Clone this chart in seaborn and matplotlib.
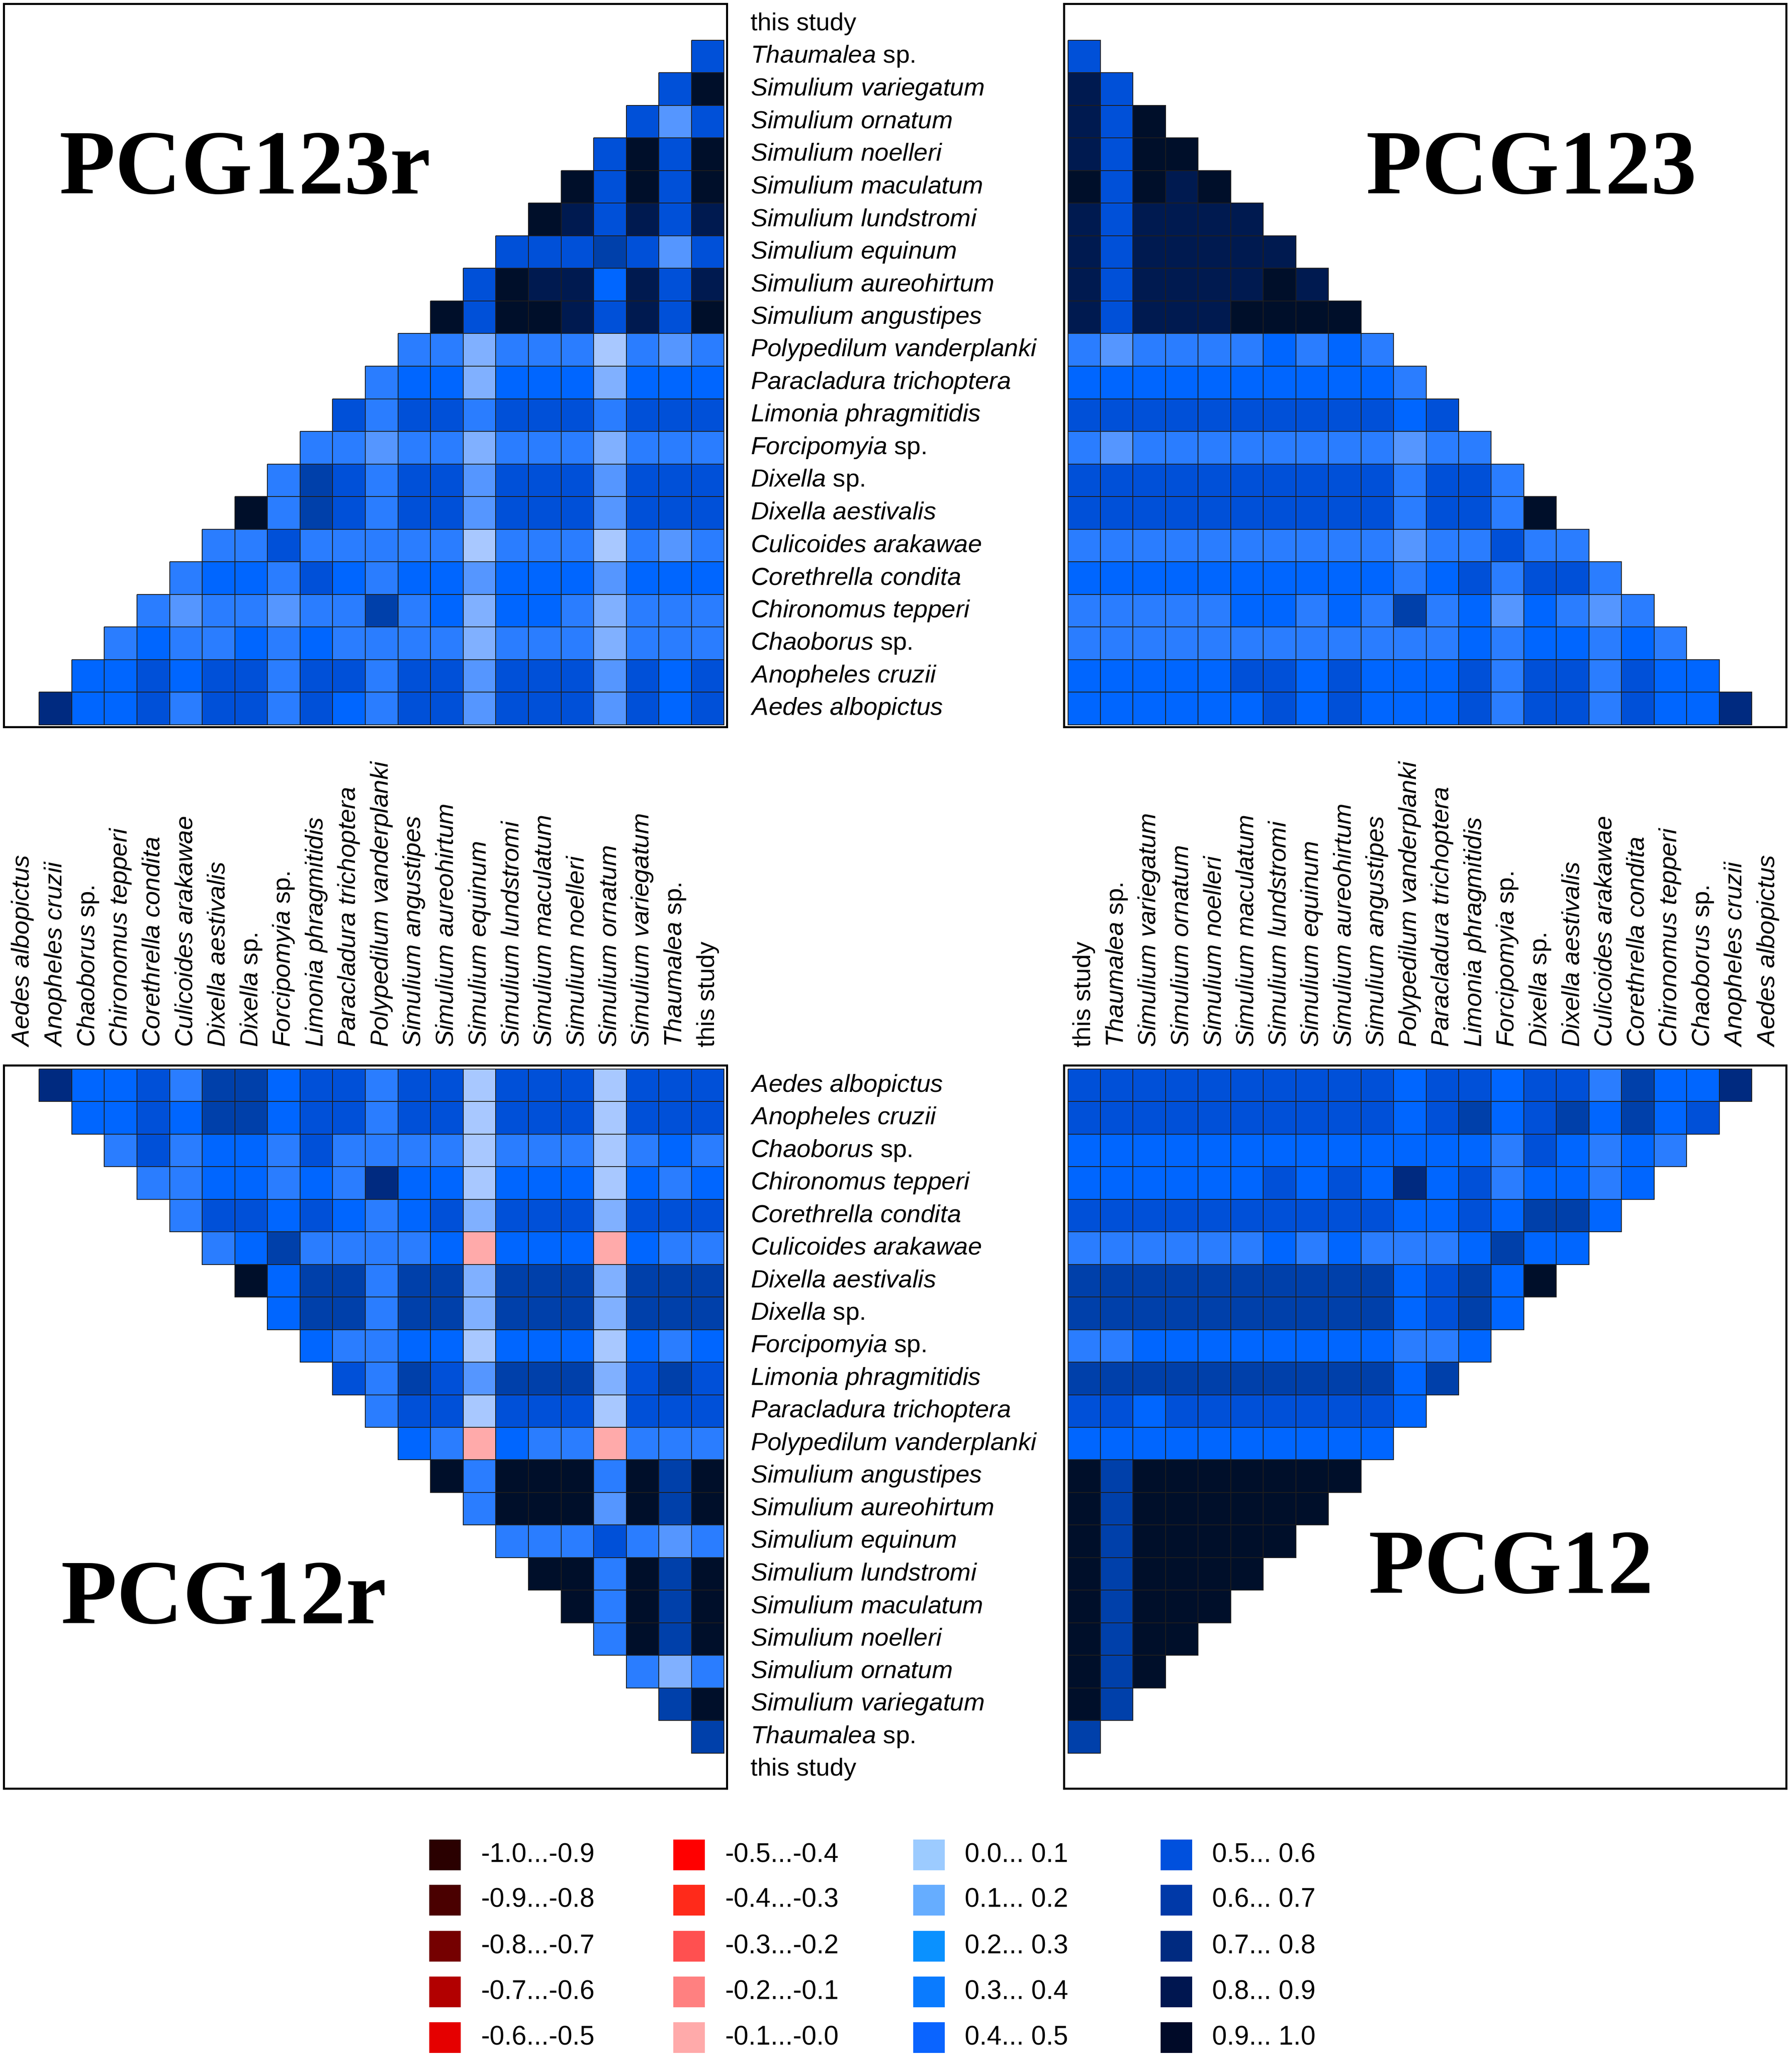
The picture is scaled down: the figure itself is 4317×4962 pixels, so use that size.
import numpy as np
import pandas as pd
import matplotlib
matplotlib.use("Agg")
import matplotlib.pyplot as plt
import seaborn as sns
from matplotlib.colors import ListedColormap, to_rgba
from matplotlib.patches import Rectangle

# ---------------- data ----------------
taxa = ["Aedes albopictus", "Anopheles cruzii", "Chaoborus sp.", "Chironomus tepperi",
        "Corethrella condita", "Culicoides arakawae", "Dixella aestivalis", "Dixella sp.",
        "Forcipomyia sp.", "Limonia phragmitidis", "Paracladura trichoptera",
        "Polypedilum vanderplanki", "Simulium angustipes", "Simulium aureohirtum",
        "Simulium equinum", "Simulium lundstromi", "Simulium maculatum", "Simulium noelleri",
        "Simulium ornatum", "Simulium variegatum", "Thaumalea sp.", "this study"]

# row i holds the values for taxa j = i+1 .. 21 (bin mid-points)
pcg123r_rows = [
    [.75, .45, .45, .55, .35, .55, .55, .35, .55, .45, .35, .55, .55, .25, .55, .55, .55, .25, .55, .45, .55],
    [.45, .45, .55, .45, .55, .55, .35, .55, .55, .35, .55, .55, .25, .55, .55, .55, .25, .55, .45, .55],
    [.35, .45, .35, .35, .45, .35, .45, .35, .35, .35, .35, .15, .35, .35, .35, .15, .35, .35, .35],
    [.35, .25, .35, .35, .25, .35, .35, .65, .35, .45, .15, .45, .45, .35, .15, .35, .35, .35],
    [.35, .45, .45, .35, .55, .45, .35, .45, .45, .25, .45, .45, .45, .25, .45, .45, .45],
    [.35, .35, .55, .35, .35, .35, .35, .35, .05, .35, .35, .35, .05, .35, .25, .35],
    [.95, .35, .65, .55, .35, .55, .55, .25, .55, .55, .55, .25, .55, .55, .55],
    [.35, .65, .55, .35, .55, .55, .25, .55, .55, .55, .25, .55, .55, .55],
    [.35, .35, .25, .35, .35, .15, .35, .35, .35, .15, .35, .35, .35],
    [.55, .35, .55, .55, .35, .55, .55, .55, .35, .55, .55, .55],
    [.35, .45, .45, .15, .45, .45, .45, .15, .45, .45, .45],
    [.35, .35, .15, .35, .35, .35, .05, .35, .25, .35],
    [.95, .55, .95, .95, .85, .55, .85, .55, .95],
    [.55, .95, .85, .85, .45, .85, .55, .85],
    [.55, .55, .55, .65, .55, .25, .55],
    [.95, .85, .55, .85, .55, .85],
    [.95, .55, .95, .55, .95],
    [.55, .95, .55, .95],
    [.55, .25, .55],
    [.55, .95],
    [.55],
]

pcg123_rows = [
    [.75, .45, .45, .55, .35, .55, .55, .35, .55, .45, .45, .45, .55, .45, .55, .45, .45, .45, .45, .45, .45],
    [.45, .45, .55, .35, .55, .55, .35, .55, .45, .45, .45, .55, .45, .55, .55, .45, .45, .45, .45, .45],
    [.35, .45, .35, .45, .45, .35, .45, .35, .35, .35, .35, .35, .35, .35, .35, .35, .35, .35, .35],
    [.35, .25, .35, .45, .25, .45, .35, .65, .35, .45, .35, .45, .45, .35, .35, .35, .35, .35],
    [.35, .55, .55, .35, .55, .45, .35, .45, .45, .45, .45, .45, .45, .45, .45, .45, .45],
    [.35, .35, .55, .35, .35, .25, .35, .35, .35, .35, .35, .35, .35, .35, .35, .35],
    [.95, .35, .55, .55, .35, .55, .55, .55, .55, .55, .55, .55, .55, .55, .55],
    [.35, .55, .55, .35, .55, .55, .55, .55, .55, .55, .55, .55, .55, .55],
    [.35, .35, .25, .35, .35, .35, .35, .35, .35, .35, .35, .25, .35],
    [.55, .45, .55, .55, .55, .55, .55, .55, .55, .55, .55, .55],
    [.35, .45, .45, .45, .45, .45, .45, .45, .45, .45, .45],
    [.35, .45, .35, .45, .35, .35, .35, .35, .25, .35],
    [.95, .95, .95, .95, .85, .85, .85, .55, .85],
    [.85, .95, .85, .85, .85, .85, .55, .85],
    [.85, .85, .85, .85, .85, .55, .85],
    [.85, .85, .85, .85, .55, .85],
    [.95, .85, .95, .55, .95],
    [.95, .95, .55, .85],
    [.95, .55, .85],
    [.55, .85],
    [.55],
]

pcg12r_rows = [
    [.75, .45, .45, .55, .35, .65, .65, .45, .55, .55, .35, .55, .55, .05, .55, .55, .55, .05, .55, .55, .55],
    [.45, .45, .55, .45, .65, .65, .45, .55, .55, .35, .55, .55, .05, .55, .55, .55, .05, .55, .55, .55],
    [.35, .55, .35, .45, .45, .35, .55, .35, .35, .35, .35, .05, .35, .35, .35, .05, .35, .45, .35],
    [.35, .35, .45, .45, .35, .45, .35, .75, .45, .45, .05, .45, .45, .45, .05, .45, .35, .45],
    [.35, .55, .55, .45, .55, .45, .35, .45, .55, .15, .55, .55, .55, .15, .55, .55, .55],
    [.35, .45, .65, .35, .35, .35, .35, .45, -.05, .45, .45, .45, -.05, .45, .35, .35],
    [.95, .45, .65, .65, .35, .65, .65, .15, .65, .65, .65, .15, .65, .65, .65],
    [.45, .65, .65, .35, .65, .65, .15, .65, .65, .65, .15, .65, .65, .65],
    [.45, .35, .35, .45, .45, .05, .45, .45, .45, .05, .45, .35, .45],
    [.55, .35, .65, .55, .25, .65, .65, .65, .15, .55, .65, .55],
    [.35, .55, .55, .05, .55, .55, .55, .05, .55, .55, .55],
    [.45, .35, -.05, .45, .35, .35, -.05, .35, .35, .35],
    [.95, .35, .95, .95, .95, .35, .95, .65, .95],
    [.35, .95, .95, .95, .25, .95, .65, .95],
    [.35, .35, .35, .55, .35, .25, .35],
    [.95, .95, .35, .95, .65, .95],
    [.95, .35, .95, .65, .95],
    [.35, .95, .65, .95],
    [.35, .15, .35],
    [.65, .95],
    [.65],
]

pcg12_rows = [
    [.75, .45, .45, .65, .35, .55, .55, .45, .55, .55, .45, .55, .55, .55, .55, .55, .55, .55, .55, .55, .55],
    [.55, .45, .65, .45, .65, .55, .45, .65, .55, .45, .55, .55, .55, .55, .55, .55, .55, .55, .55, .55],
    [.35, .45, .35, .45, .55, .35, .45, .45, .45, .45, .45, .45, .45, .45, .45, .45, .45, .45, .45],
    [.45, .35, .45, .45, .35, .55, .45, .75, .45, .55, .45, .55, .45, .45, .45, .45, .45, .45],
    [.45, .65, .65, .45, .55, .45, .45, .55, .55, .55, .55, .55, .55, .55, .55, .55, .55],
    [.45, .45, .65, .45, .35, .35, .35, .45, .35, .45, .35, .35, .35, .35, .35, .35],
    [.95, .45, .65, .55, .45, .65, .65, .65, .65, .65, .65, .65, .65, .65, .65],
    [.45, .65, .55, .45, .65, .65, .65, .65, .65, .65, .65, .65, .65, .65],
    [.45, .35, .35, .45, .45, .45, .45, .45, .45, .45, .45, .35, .35],
    [.65, .45, .65, .65, .65, .65, .65, .65, .65, .65, .65, .65],
    [.45, .55, .55, .55, .55, .55, .55, .55, .45, .55, .55],
    [.45, .45, .45, .45, .45, .45, .45, .45, .45, .45],
    [.95, .95, .95, .95, .95, .95, .95, .65, .95],
    [.95, .95, .95, .95, .95, .95, .65, .95],
    [.95, .95, .95, .95, .95, .65, .95],
    [.95, .95, .95, .95, .65, .95],
    [.95, .95, .95, .65, .95],
    [.95, .95, .65, .95],
    [.95, .65, .95],
    [.65, .95],
    [.65],
]

legend_labels = ["-1.0...-0.9", "-0.9...-0.8", "-0.8...-0.7", "-0.7...-0.6", "-0.6...-0.5",
                 "-0.5...-0.4", "-0.4...-0.3", "-0.3...-0.2", "-0.2...-0.1", "-0.1...-0.0",
                 "0.0... 0.1", "0.1... 0.2", "0.2... 0.3", "0.3... 0.4", "0.4... 0.5",
                 "0.5... 0.6", "0.6... 0.7", "0.7... 0.8", "0.8... 0.9", "0.9... 1.0"]

# ---------------- styles ----------------
neg_colors = ["#2a0000", "#4a0000", "#750000", "#b20000", "#e50000",
              "#ff0000", "#ff2a1a", "#ff5050", "#ff8080", "#ffaaaa"]
panel_pos_colors = ["#a8c8ff", "#80b0ff", "#5596ff", "#2a7dff", "#0066ff",
                    "#0050d8", "#0040aa", "#002a80", "#001a50", "#000f2a"]
legend_pos_colors = ["#9ccbff", "#66adff", "#0a91ff", "#0a7bff", "#0a64ff",
                     "#0050dd", "#0039a8", "#002a80", "#001650", "#000a28"]

W, H, DPI = 4317, 4962, 100
sns.set_style("white")
plt.rcParams["font.family"] = ["Liberation Sans", "DejaVu Sans"]
plt.rcParams["mathtext.fontset"] = "custom"
plt.rcParams["mathtext.it"] = "Liberation Sans:italic"
plt.rcParams["mathtext.rm"] = "Liberation Sans"
plt.rcParams["mathtext.bf"] = "Liberation Sans:bold"
plt.rcParams["text.color"] = "black"
plt.rcParams["xtick.color"] = "black"
plt.rcParams["ytick.color"] = "black"
plt.rcParams["xtick.labelcolor"] = "black"
plt.rcParams["ytick.labelcolor"] = "black"

fig = plt.figure(figsize=(W / DPI, H / DPI), dpi=DPI)
fig.patch.set_facecolor("white")

cmap = ListedColormap(neg_colors + panel_pos_colors)
n = len(taxa)


def full_matrix(rows):
    m = np.full((n, n), np.nan)
    for i, row in enumerate(rows):
        for k, v in enumerate(row):
            m[i, i + 1 + k] = v
    return m


def fmt(name):
    if name == "this study":
        return name
    if name.endswith(" sp."):
        return r"$\mathit{" + name[:-4] + r"}$ sp."
    return r"$\mathit{" + name.replace(" ", r"\ ") + r"}$"


LABEL_FS = 43.5
LINE_COLOR = "#1e1e1e"


def panel(rows, flip_r, flip_c, box, grid, ylabels, xlabels):
    m = full_matrix(rows)
    r_names = taxa[::-1] if flip_r else taxa
    c_names = taxa[::-1] if flip_c else taxa
    if flip_r:
        m = m[::-1, :]
    if flip_c:
        m = m[:, ::-1]
    df = pd.DataFrame(m, index=r_names, columns=c_names)
    bx0, by0, bx1, by1 = box
    gx0, gy0, gx1, gy1 = grid
    ax = fig.add_axes([bx0 / W, 1 - by1 / H, (bx1 - bx0) / W, (by1 - by0) / H])
    sns.heatmap(df, ax=ax, cmap=cmap, vmin=-1, vmax=1, cbar=False,
                linewidths=1.4, linecolor=LINE_COLOR,
                xticklabels=[fmt(c) for c in c_names],
                yticklabels=[fmt(r) for r in r_names])
    # hide edges of empty (masked) cells
    mesh = ax.collections[0]
    ec = np.tile(np.array(to_rgba(LINE_COLOR)), (df.size, 1))
    ec[np.isnan(df.values).ravel(), 3] = 0.0
    mesh.set_edgecolor(ec)
    cw = (gx1 - gx0) / n
    ch = (gy1 - gy0) / n
    ax.set_xlim(-(gx0 - bx0) / cw, n + (bx1 - gx1) / cw)
    ax.set_ylim(n + (by1 - gy1) / ch, -(gy0 - by0) / ch)
    for s in ax.spines.values():
        s.set_visible(True)
        s.set_linewidth(3.5)
        s.set_color("black")
    ax.set_xlabel("")
    ax.set_ylabel("")
    if ylabels:
        ax.yaxis.tick_right()
        ax.tick_params(axis="y", length=0, pad=41, labelright=True, labelleft=False)
        plt.setp(ax.get_yticklabels(), rotation=0, ha="left", va="center",
                 fontsize=LABEL_FS, color="black")
    else:
        ax.tick_params(axis="y", length=0, labelleft=False, labelright=False)
    if xlabels:
        ax.xaxis.tick_top()
        ax.tick_params(axis="x", length=0, pad=32, labeltop=True, labelbottom=False)
        plt.setp(ax.get_xticklabels(), rotation=90, ha="center", va="bottom",
                 fontsize=LABEL_FS, color="black")
    else:
        ax.tick_params(axis="x", length=0, labelbottom=False, labeltop=False)
    return ax


panel(pcg123r_rows, True, False, (9, 9, 1751, 1751), (15.7, 18, 1744.4, 1746), True, False)
panel(pcg123_rows, True, True, (2563, 9, 4303, 1751), (2572.5, 18, 4298.5, 1746), False, False)
panel(pcg12r_rows, False, False, (9, 2566, 1751, 4308), (15.7, 2575, 1744.4, 4301), True, True)
panel(pcg12_rows, False, True, (2563, 2566, 4303, 4308), (2572.5, 2575, 4298.5, 4301), False, True)

# panel titles
title_kw = dict(fontfamily="Liberation Serif", fontweight="bold", fontsize=159,
                ha="left", va="baseline", color="black")
fig.text(142 / W, 1 - 466 / H, "PCG123r", **title_kw)
fig.text(3290 / W, 1 - 466 / H, "PCG123", **title_kw)
fig.text(146 / W, 1 - 3910 / H, "PCG12r", **title_kw)
fig.text(3296 / W, 1 - 3837 / H, "PCG12", **title_kw)

# legend
lax = fig.add_axes([0, 0, 1, 1])
lax.set_xlim(0, W)
lax.set_ylim(H, 0)
lax.axis("off")
lax.patch.set_visible(False)
legend_colors = neg_colors + legend_pos_colors
col_x = [1034, 1622, 2200, 2796]
row_y = [4468, 4577, 4688, 4798, 4908]
sw, sh = 76, 74
for k, (lab, col) in enumerate(zip(legend_labels, legend_colors)):
    cx = col_x[k // 5]
    cy = row_y[k % 5]
    lax.add_patch(Rectangle((cx, cy - sh / 2), sw, sh, facecolor=col, edgecolor="none"))
    lax.text(cx + sw + 48, cy, lab, fontsize=46, ha="left", va="center", color="black")

fig.savefig("out.png", dpi=DPI, facecolor="white")
